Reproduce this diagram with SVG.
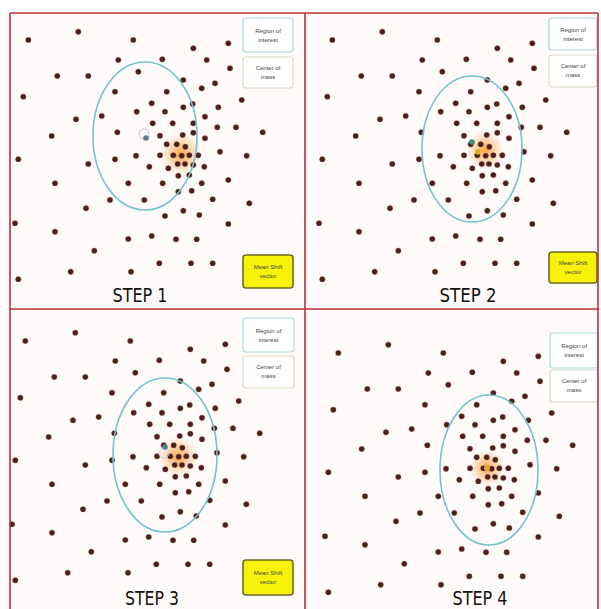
<svg xmlns="http://www.w3.org/2000/svg" xmlns:xlink="http://www.w3.org/1999/xlink" width="601" height="609" viewBox="0 0 601 609">
<style>
.bg{fill:#fffbfa}
.frame{fill:none;stroke:#b8323c;stroke-width:1.6}
.dot{fill:#4a201c;stroke:#c07060;stroke-opacity:0.35;stroke-width:1}
.roi{fill:none;stroke:#72c3cb;stroke-width:1.6}
.lg{rx:3;stroke-width:1.2}
.lg-roi{fill:#ffffff;stroke:#a9d8de}
.lg-com{fill:#ffffff;stroke:#ddd7c4}
.lg-msv{fill:#f6f20a;stroke:#6d6a25;stroke-width:1.6}
.lgt{font-family:"Liberation Sans",Arial,sans-serif;font-size:6px;fill:#444;text-anchor:middle}
.step{font-family:"DejaVu Sans","Liberation Sans",sans-serif;font-size:19px;fill:#111;text-anchor:middle}
.com{fill:#5b7f8c}
</style>
<defs>
<radialGradient id="halo">
<stop offset="0" stop-color="#f39a2c" stop-opacity="0.9"/>
<stop offset="0.5" stop-color="#f7b060" stop-opacity="0.5"/>
<stop offset="1" stop-color="#fbd0a0" stop-opacity="0"/>
</radialGradient>
<g id="points">
<circle class="dot" cx="28.3" cy="40" r="2.8"/><circle class="dot" cx="78.3" cy="31.7" r="2.8"/><circle class="dot" cx="133.3" cy="40" r="2.8"/><circle class="dot" cx="193.3" cy="48.3" r="2.8"/><circle class="dot" cx="228.3" cy="43.3" r="2.8"/>
<circle class="dot" cx="118.3" cy="60" r="2.8"/><circle class="dot" cx="162.3" cy="59.3" r="2.8"/><circle class="dot" cx="206.7" cy="60" r="2.8"/><circle class="dot" cx="230" cy="68.3" r="2.8"/><circle class="dot" cx="57.3" cy="76" r="2.8"/>
<circle class="dot" cx="88.3" cy="76" r="2.8"/><circle class="dot" cx="138.3" cy="71.7" r="2.8"/><circle class="dot" cx="183.3" cy="80" r="2.8"/><circle class="dot" cx="201.7" cy="88.3" r="2.8"/><circle class="dot" cx="215" cy="83.3" r="2.8"/>
<circle class="dot" cx="23.3" cy="96.7" r="2.8"/><circle class="dot" cx="115" cy="91.7" r="2.8"/><circle class="dot" cx="166.7" cy="91.7" r="2.8"/><circle class="dot" cx="241.7" cy="100" r="2.8"/><circle class="dot" cx="151.7" cy="103.3" r="2.8"/>
<circle class="dot" cx="165" cy="111.7" r="2.8"/><circle class="dot" cx="183.3" cy="107.3" r="2.8"/><circle class="dot" cx="192.7" cy="104" r="2.8"/><circle class="dot" cx="218.3" cy="107.3" r="2.8"/><circle class="dot" cx="136.7" cy="111.7" r="2.8"/>
<circle class="dot" cx="101.7" cy="116" r="2.8"/><circle class="dot" cx="76" cy="119.3" r="2.8"/><circle class="dot" cx="205" cy="116.7" r="2.8"/><circle class="dot" cx="152.7" cy="123.3" r="2.8"/><circle class="dot" cx="172.7" cy="123.3" r="2.8"/>
<circle class="dot" cx="193.3" cy="123.3" r="2.8"/><circle class="dot" cx="217.3" cy="127.3" r="2.8"/><circle class="dot" cx="236" cy="127.3" r="2.8"/><circle class="dot" cx="262.7" cy="132.3" r="2.8"/><circle class="dot" cx="51.7" cy="136" r="2.8"/>
<circle class="dot" cx="117.3" cy="132.3" r="2.8"/><circle class="dot" cx="160" cy="135.7" r="2.8"/><circle class="dot" cx="182.7" cy="135" r="2.8"/><circle class="dot" cx="193.3" cy="132.7" r="2.8"/><circle class="dot" cx="205" cy="138.3" r="2.8"/>
<circle class="dot" cx="166.7" cy="144.3" r="2.8"/><circle class="dot" cx="176.7" cy="144.3" r="2.8"/><circle class="dot" cx="185.3" cy="146.7" r="2.8"/><circle class="dot" cx="220" cy="151.7" r="2.8"/><circle class="dot" cx="246.7" cy="155.7" r="2.8"/>
<circle class="dot" cx="18.3" cy="159.3" r="2.8"/><circle class="dot" cx="115" cy="159.3" r="2.8"/><circle class="dot" cx="136" cy="155.7" r="2.8"/><circle class="dot" cx="160" cy="155.3" r="2.8"/><circle class="dot" cx="173.3" cy="155.3" r="2.8"/>
<circle class="dot" cx="181.7" cy="155.7" r="2.8"/><circle class="dot" cx="189.3" cy="155.3" r="2.8"/><circle class="dot" cx="198.3" cy="155.3" r="2.8"/><circle class="dot" cx="88.3" cy="164" r="2.8"/><circle class="dot" cx="149.3" cy="166.7" r="2.8"/>
<circle class="dot" cx="168.3" cy="168.3" r="2.8"/><circle class="dot" cx="177.7" cy="164" r="2.8"/><circle class="dot" cx="185" cy="164" r="2.8"/><circle class="dot" cx="193.3" cy="165" r="2.8"/><circle class="dot" cx="204.3" cy="166.7" r="2.8"/>
<circle class="dot" cx="178.3" cy="175.7" r="2.8"/><circle class="dot" cx="189.3" cy="175" r="2.8"/><circle class="dot" cx="55" cy="183.3" r="2.8"/><circle class="dot" cx="128.3" cy="183.3" r="2.8"/><circle class="dot" cx="162.7" cy="183.3" r="2.8"/>
<circle class="dot" cx="201.7" cy="183.3" r="2.8"/><circle class="dot" cx="228.3" cy="180" r="2.8"/><circle class="dot" cx="191.7" cy="190.7" r="2.8"/><circle class="dot" cx="178.3" cy="191.7" r="2.8"/><circle class="dot" cx="110" cy="200" r="2.8"/>
<circle class="dot" cx="144.3" cy="200" r="2.8"/><circle class="dot" cx="212.7" cy="199.3" r="2.8"/><circle class="dot" cx="249.3" cy="203.3" r="2.8"/><circle class="dot" cx="86" cy="208.3" r="2.8"/><circle class="dot" cx="183.3" cy="210.7" r="2.8"/>
<circle class="dot" cx="165" cy="216" r="2.8"/><circle class="dot" cx="199.3" cy="215" r="2.8"/><circle class="dot" cx="15" cy="223.3" r="2.8"/><circle class="dot" cx="55" cy="231.7" r="2.8"/><circle class="dot" cx="228.3" cy="224" r="2.8"/>
<circle class="dot" cx="128.3" cy="239" r="2.8"/><circle class="dot" cx="151.7" cy="236" r="2.8"/><circle class="dot" cx="176" cy="239.3" r="2.8"/><circle class="dot" cx="196.7" cy="239.3" r="2.8"/><circle class="dot" cx="94.3" cy="250.7" r="2.8"/>
<circle class="dot" cx="159.3" cy="263.3" r="2.8"/><circle class="dot" cx="191" cy="263.3" r="2.8"/><circle class="dot" cx="212.7" cy="263.3" r="2.8"/><circle class="dot" cx="70.7" cy="271.7" r="2.8"/><circle class="dot" cx="131" cy="271.7" r="2.8"/>
<circle class="dot" cx="18.3" cy="279.3" r="2.8"/>
</g>
</defs>
<rect class="bg" x="0" y="0" width="601" height="609"/>
<rect x="0" y="0" width="601" height="12" fill="#ffffff"/>

<g id="panel1">
<circle cx="181" cy="154" r="22" fill="url(#halo)"/>
<use href="#points"/>
<ellipse class="roi" cx="145" cy="136" rx="52" ry="74"/>
<circle cx="144" cy="134" r="5" fill="none" stroke="#b8c6cc" stroke-width="1"/>
<circle class="com" cx="146" cy="138" r="2.8"/>
<g id="p1-roi"><rect class="lg lg-roi" x="243" y="18" width="50" height="34"/><text class="lgt" x="268" y="33">Region of</text><text class="lgt" x="268" y="42">interest</text></g>
<g id="p1-com"><rect class="lg lg-com" x="243" y="57" width="50" height="31"/><text class="lgt" x="268" y="70">Center of</text><text class="lgt" x="268" y="79">mass</text></g>
<g id="p1-msv"><rect class="lg lg-msv" x="243" y="255" width="50" height="33"/><text class="lgt" x="268" y="269">Mean Shift</text><text class="lgt" x="268" y="278">vector</text></g>
<text class="step" x="140" y="302" textLength="55" lengthAdjust="spacingAndGlyphs">STEP 1</text>
</g>

<g id="panel2">
<circle cx="485" cy="150" r="20" fill="url(#halo)"/>
<use href="#points" transform="translate(304,0)"/>
<ellipse class="roi" cx="472" cy="149" rx="50" ry="73"/>
<circle cx="472" cy="142" r="2.8" fill="#3a8a7a"/>
<circle cx="478" cy="152" r="2.8" fill="#e0b020"/>
<g id="p2-roi"><rect class="lg lg-roi" x="549" y="18" width="48" height="32"/><text class="lgt" x="573" y="32">Region of</text><text class="lgt" x="573" y="41">interest</text></g>
<g id="p2-com"><rect class="lg lg-com" x="549" y="55" width="48" height="32"/><text class="lgt" x="573" y="68">Center of</text><text class="lgt" x="573" y="77">mass</text></g>
<g id="p2-msv"><rect class="lg lg-msv" x="549" y="252" width="48" height="31"/><text class="lgt" x="573" y="265">Mean Shift</text><text class="lgt" x="573" y="274">vector</text></g>
<text class="step" x="468" y="302" textLength="57" lengthAdjust="spacingAndGlyphs">STEP 2</text>
</g>

<g id="panel3">
<circle cx="178" cy="457" r="21" fill="url(#halo)"/>
<use href="#points" transform="translate(-3,301)"/>
<ellipse class="roi" cx="165" cy="455" rx="52" ry="77"/>
<circle cx="164" cy="453" r="5" fill="none" stroke="#c4d0d4" stroke-width="1"/>
<circle class="com" cx="165" cy="447" r="2.8"/>
<g id="p3-roi"><rect class="lg lg-roi" x="243" y="318" width="51" height="34"/><text class="lgt" x="268.5" y="333">Region of</text><text class="lgt" x="268.5" y="342">interest</text></g>
<g id="p3-com"><rect class="lg lg-com" x="243" y="356" width="51" height="32"/><text class="lgt" x="268.5" y="369">Center of</text><text class="lgt" x="268.5" y="378">mass</text></g>
<g id="p3-msv"><rect class="lg lg-msv" x="243" y="560" width="50" height="35"/><text class="lgt" x="268" y="575">Mean Shift</text><text class="lgt" x="268" y="584">vector</text></g>
<text class="step" x="152" y="605" textLength="54" lengthAdjust="spacingAndGlyphs">STEP 3</text>
</g>

<g id="panel4">
<circle cx="487" cy="468" r="19" fill="url(#halo)"/>
<use href="#points" transform="translate(310,313)"/>
<ellipse class="roi" cx="489" cy="470" rx="49" ry="75"/>
<circle cx="487" cy="468" r="3" fill="#e8a030"/>
<g id="p4-roi"><rect class="lg lg-roi" x="550" y="333" width="48" height="35"/><text class="lgt" x="574" y="348">Region of</text><text class="lgt" x="574" y="357">interest</text></g>
<g id="p4-com"><rect class="lg lg-com" x="550" y="370" width="48" height="32"/><text class="lgt" x="574" y="383">Center of</text><text class="lgt" x="574" y="392">mass</text></g>
<text class="step" x="480" y="605" textLength="55" lengthAdjust="spacingAndGlyphs">STEP 4</text>
</g>

<g id="frames">
<line class="frame" x1="10" y1="13" x2="598" y2="13"/>
<line class="frame" x1="10" y1="309" x2="599" y2="309"/>
<line class="frame" x1="10" y1="13" x2="10" y2="609"/>
<line class="frame" x1="305" y1="13" x2="305" y2="609"/>
<line class="frame" x1="598" y1="13" x2="598" y2="609"/>
</g>
</svg>
